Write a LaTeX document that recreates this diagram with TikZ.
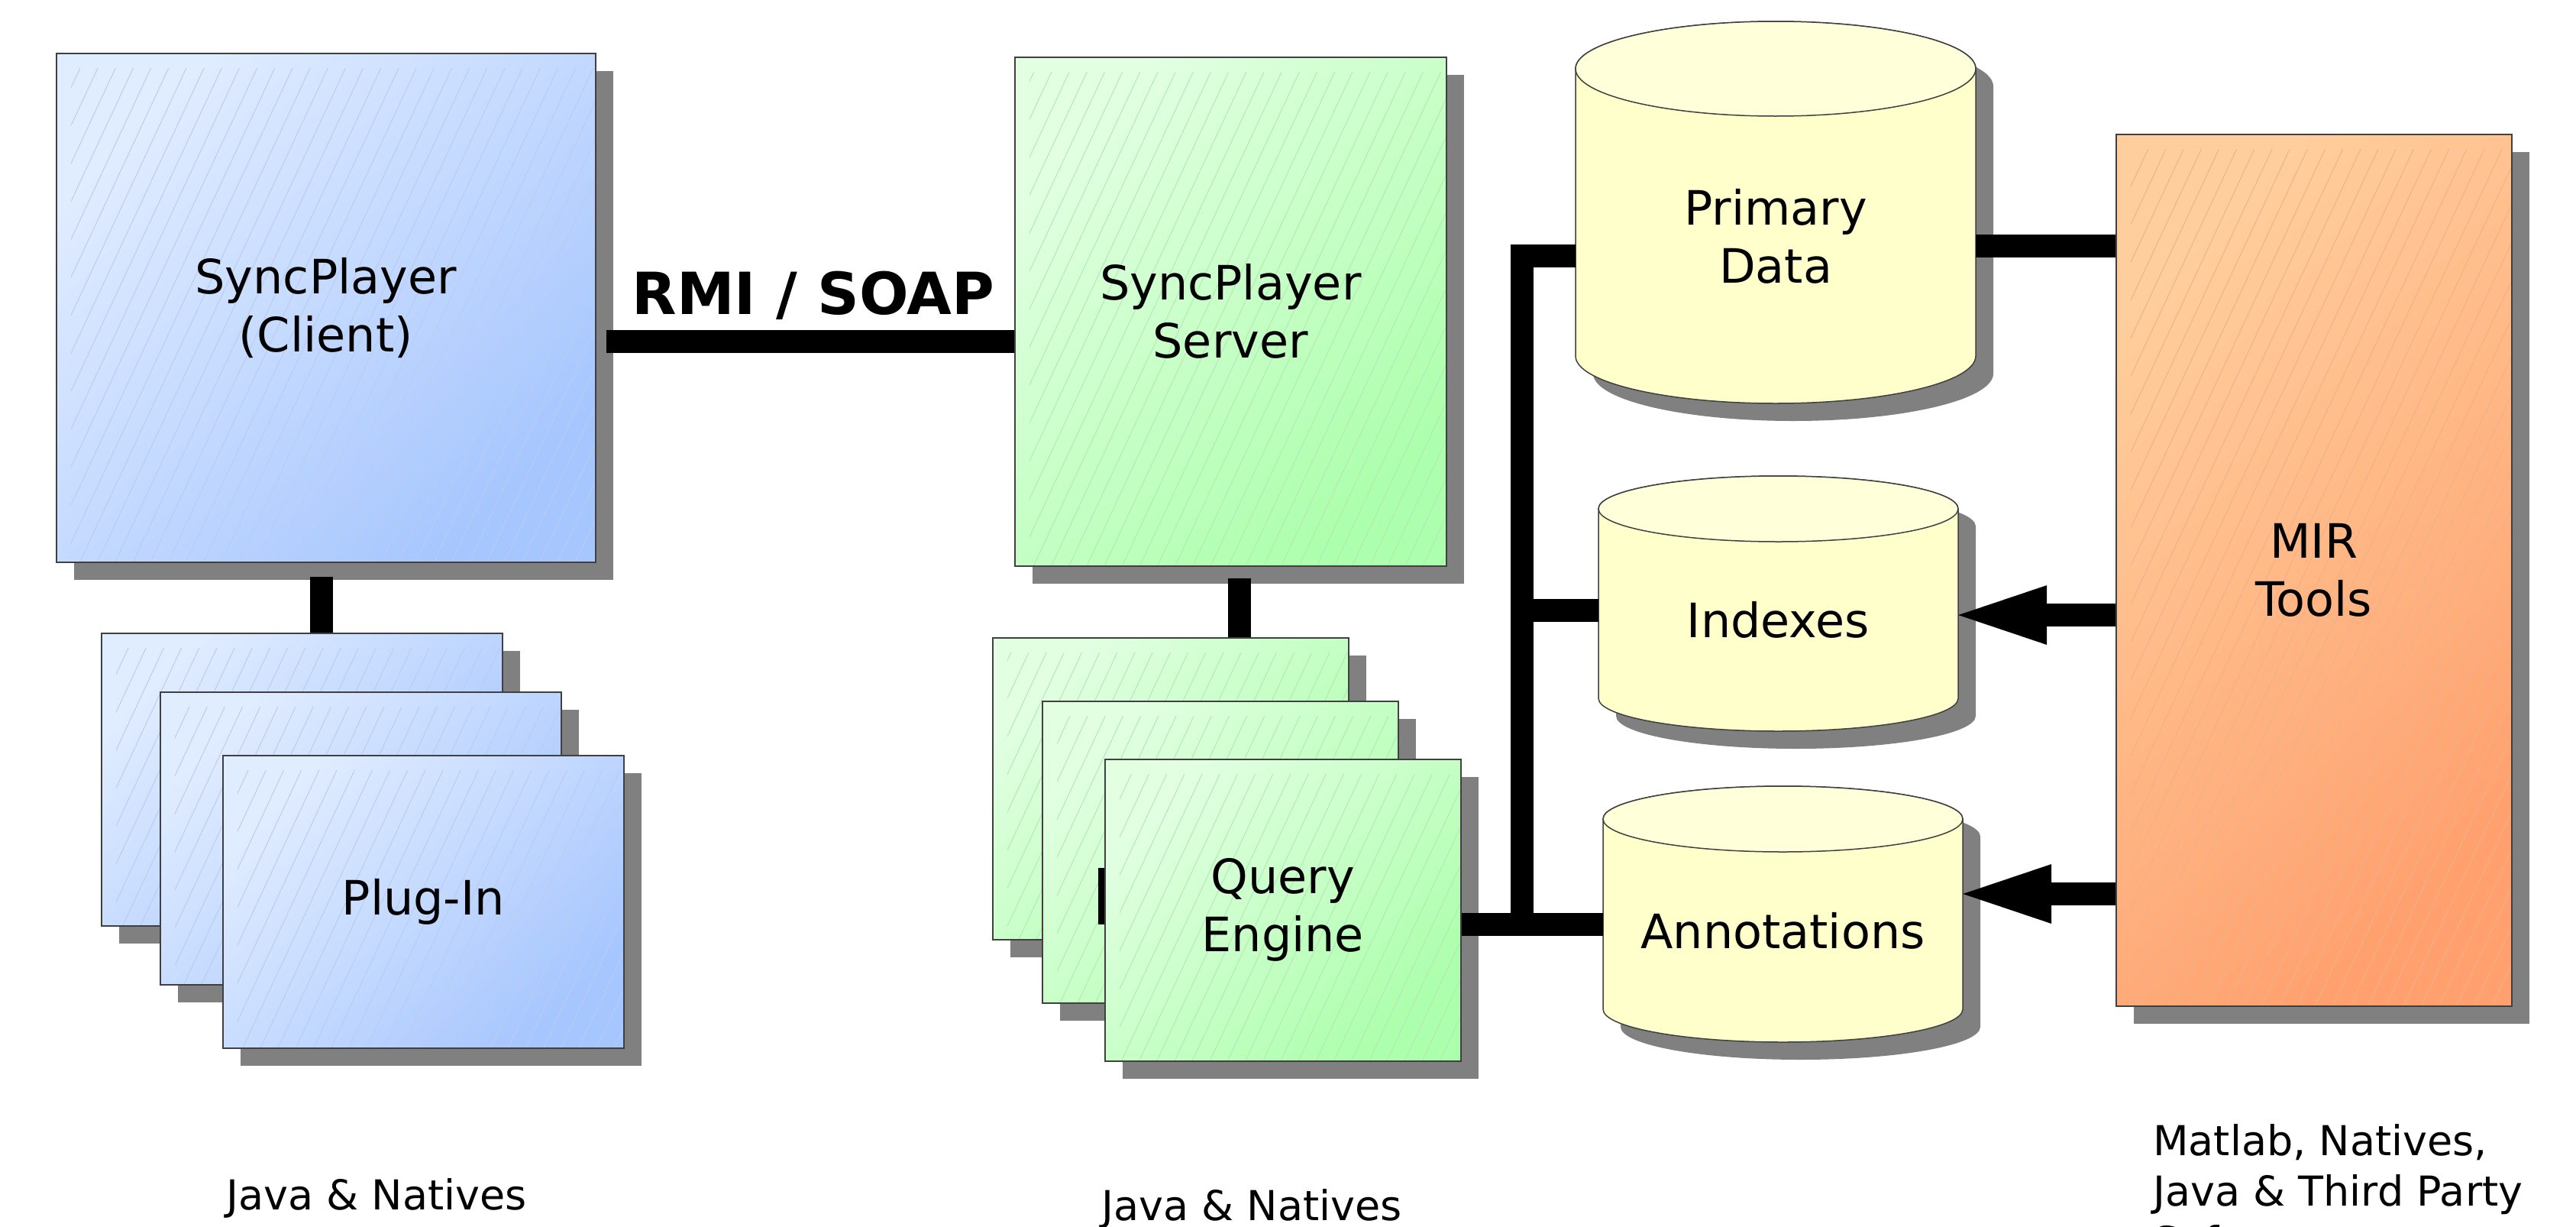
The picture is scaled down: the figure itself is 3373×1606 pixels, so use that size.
\documentclass[tikz,border=0pt]{standalone}
\usepackage{fontspec}
\setmainfont{DejaVu Sans}
\usetikzlibrary{shadows,patterns.meta,arrows.meta}
\definecolor{bluelt}{RGB}{224,236,255}
\definecolor{bluedk}{RGB}{166,198,255}
\definecolor{greenlt}{RGB}{226,255,226}
\definecolor{greendk}{RGB}{172,255,172}
\definecolor{orangelt}{RGB}{255,206,156}
\definecolor{orangedk}{RGB}{255,160,110}
\definecolor{bluehatch}{RGB}{188,204,236}
\definecolor{greenhatch}{RGB}{180,232,180}
\definecolor{orangehatch}{RGB}{236,178,138}
\definecolor{cylbody}{RGB}{255,255,204}
\definecolor{cyltop}{RGB}{255,255,218}
\definecolor{shadowgray}{RGB}{128,128,128}
\newcommand\lblfont{\fontsize{62}{76}\selectfont}
\newcommand\notefont{\fontsize{54}{66}\selectfont}
\newcommand\rmifont{\fontsize{76}{90}\selectfont\bfseries}
\tikzset{
  sbox/.style={rectangle, anchor=north west, inner sep=0pt, draw=black!75, line width=1.5pt,
    align=center, font=\lblfont,
    drop shadow={shadow xshift=23pt, shadow yshift=-23pt, fill=shadowgray, opacity=1}},
  bluebox/.style={sbox, top color=bluelt, bottom color=bluedk, shading angle=45},
  greenbox/.style={sbox, top color=greenlt, bottom color=greendk, shading angle=45},
  orangebox/.style={sbox, top color=orangelt, bottom color=orangedk, shading angle=45},
  conn/.style={draw=black, line width=30pt, line cap=butt},
  hatching/.style={pattern={Lines[angle=65,distance=21pt,line width=1pt]}, pattern color=#1},
  note/.style={font=\notefont, inner sep=0pt},
  bigtip/.style={-{Triangle[length=116pt,width=78pt,line width=0pt]}}
}
\newcommand\hatchbox[2]{\path[hatching=#2] ([shift={(20,20)}]#1.north west) rectangle ([shift={(-2,-2)}]#1.south east);}
\newcommand\dbcyl[7]{%
  \pgfmathsetmacro\cxa{#2}\pgfmathsetmacro\cxb{#3}%
  \pgfmathsetmacro\cxm{(#2+#3)/2}%
  \pgfmathsetmacro\crx{(#3-#2)/2}%
  \pgfmathsetmacro\cyt{#4+#6}\pgfmathsetmacro\cyb{#5-#6}%
  \pgfmathsetmacro\cym{(#4+#6+#5)/2}%
  \pgfmathsetmacro\cht{#5-#4-#6}%
  \pgfmathsetmacro\cwd{#3-#2}%
  \begin{scope}[shift={(23,23)}]
    \fill[shadowgray] (\cxa,\cyt) -- (\cxa,\cyb) arc[start angle=180,end angle=360,x radius=\crx pt,y radius=#6pt] -- (\cxb,\cyt) arc[start angle=0,end angle=180,x radius=\crx pt,y radius=#6pt] -- cycle;
  \end{scope}
  \path[fill=cylbody, draw=black!75, line width=1.5pt] (\cxa,\cyt) -- (\cxa,\cyb) arc[start angle=180,end angle=360,x radius=\crx pt,y radius=#6pt] -- (\cxb,\cyt) arc[start angle=0,end angle=180,x radius=\crx pt,y radius=#6pt] -- cycle;
  \path[fill=cyltop, draw=black!75, line width=1.5pt] (\cxm,\cyt) ellipse [x radius=\crx pt, y radius=#6pt];
  \node[rectangle, inner sep=0pt, minimum width=\cwd pt, minimum height=\cht pt, font=\lblfont, align=center] (#1) at (\cxm,\cym) {#7};
}
\begin{document}
\begin{tikzpicture}[x=1pt,y=-1pt]
\fill[white] (0,0) rectangle (3373,1606);
\useasboundingbox (0,0) rectangle (3373,1606);

% client
\node[bluebox, minimum width=706pt, minimum height=666pt] (client) at (73,69) {};
\hatchbox{client}{bluehatch}
\node[font=\lblfont, align=center] (clientlbl) at (client.center) {SyncPlayer\\(Client)};
% plug-ins
\node[bluebox, minimum width=525pt, minimum height=383pt] (plug1) at (132,828) {};
\hatchbox{plug1}{bluehatch}
\node[bluebox, minimum width=525pt, minimum height=383pt] (plug2) at (209,905) {};
\hatchbox{plug2}{bluehatch}
\node[bluebox, minimum width=525pt, minimum height=383pt] (plug3) at (291,988) {};
\hatchbox{plug3}{bluehatch}
\node[font=\lblfont] (plug3lbl) at (plug3.center) {Plug-In};

% server
\node[greenbox, minimum width=565pt, minimum height=666pt] (server) at (1328,74) {};
\hatchbox{server}{greenhatch}
\node[font=\lblfont, align=center] (serverlbl) at (server.center) {SyncPlayer\\Server};
% query engines
\node[greenbox, minimum width=466pt, minimum height=395pt] (q1) at (1299,834) {};
\hatchbox{q1}{greenhatch}
\node[greenbox, minimum width=466pt, minimum height=395pt] (q2) at (1364,917) {};
\hatchbox{q2}{greenhatch}
\fill[black] (1438,1136) rectangle (1452,1210);
\node[greenbox, minimum width=466pt, minimum height=395pt] (q3) at (1446,993) {};
\hatchbox{q3}{greenhatch}
\node[font=\lblfont, align=center] (q3lbl) at (q3.center) {Query\\Engine};

% databases
\dbcyl{pd}{2063}{2587}{28}{528}{62}{Primary\\Data}
\dbcyl{ix}{2093}{2564}{623}{957}{43}{Indexes}
\dbcyl{an}{2099}{2570}{1029}{1364}{43}{Annotations}

% MIR tools
\node[orangebox, minimum width=518pt, minimum height=1141pt] (mir) at (2770,175) {};
\hatchbox{mir}{orangehatch}
\node[font=\lblfont, align=center] (mirlbl) at (mir.center) {MIR\\Tools};

% connectors
\coordinate (rmiL) at ([xshift=13pt,yshift=-44pt]client.east);
\draw[conn] (rmiL) -- (server.west |- rmiL);
\coordinate (cpA) at ([xshift=-6pt,yshift=-18pt]client.south);
\draw[conn] (cpA) -- (cpA |- plug1.north);
\coordinate (sqA) at ([xshift=12pt,yshift=-15pt]server.south);
\draw[conn] (sqA) -- (sqA |- q1.north);

\coordinate (busx) at (1993,0);
\coordinate (yPD) at (0,335);
\coordinate (yIX) at (0,799);
\coordinate (yAN) at (0,1210);
\coordinate (yMP) at (0,322);
\coordinate (yIXa) at (0,805);
\coordinate (yANa) at (0,1170);
\draw[conn, line join=miter] (pd.west |- yPD) -- (busx |- yPD) -- (busx |- yAN);
\draw[conn] (q3.east |- yAN) -- (an.west |- yAN);
\draw[conn] (busx |- yIX) -- (ix.west |- yIX);
\draw[conn] (pd.east |- yMP) -- (mir.west |- yMP);
\draw[conn, bigtip] (mir.west |- yIXa) -- (ix.east |- yIXa);
\draw[conn, bigtip] (mir.west |- yANa) -- (an.east |- yANa);

% labels
\node[font=\rmifont, anchor=base, inner sep=0pt] (rmi) at (1065,411) {RMI / SOAP};
\node[note, anchor=base] (jn1) at (493,1583) {Java \& Natives};
\node[note, anchor=base] (jn2) at (1639,1597) {Java \& Natives};
\node[note, anchor=base west, align=left] (mirnote) at (2819,1644) {Matlab, Natives,\\Java \& Third Party\\Software};
\end{tikzpicture}
\end{document}
